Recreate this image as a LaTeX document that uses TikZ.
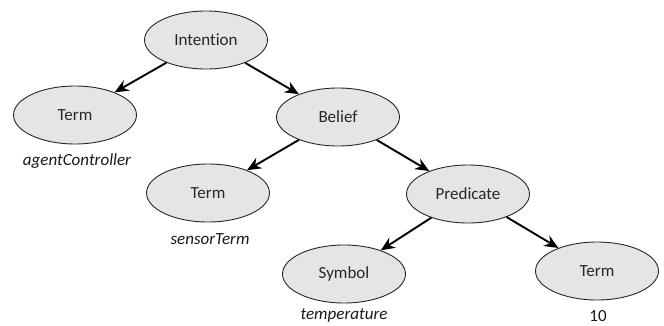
\documentclass[tikz,border=0pt]{standalone}
\usepackage{fontspec}
\setmainfont[Ligatures=NoCommon]{Carlito}
\usetikzlibrary{shapes.geometric,arrows.meta}
\begin{document}
\begin{tikzpicture}[x=1pt,y=-1pt,
  treenode/.style={ellipse,draw=black!85,line width=0.9pt,fill=black!10,
    minimum width=123pt,minimum height=58pt,inner sep=0pt,
    font=\fontsize{17}{20}\selectfont,text=black!85},
  valuelabel/.style={font=\fontsize{17}{20}\selectfont,text=black!90,inner sep=1pt},
  edge/.style={-{Stealth[length=14pt,width=12pt]},line width=1.9pt}]
  \useasboundingbox (0,0) rectangle (664,325);
  \node[treenode] (intention) at (206,40) {Intention};
  \node[treenode] (term1) at (75,115) {Term};
  \node[treenode] (belief) at (338,117) {Belief};
  \node[treenode] (term2) at (208,193) {Term};
  \node[treenode] (predicate) at (468,194) {Predicate};
  \node[treenode] (symbol) at (344,274) {Symbol};
  \node[treenode] (term3) at (597,271) {Term};
  \node[valuelabel] (v1) at (77,161) {\itshape agentController};
  \node[valuelabel] (v2) at (210,239) {\itshape sensorTerm};
  \node[valuelabel] (v3) at (344,315) {\itshape temperature};
  \node[valuelabel] (v4) at (598,316) {10};
  \draw[edge] (intention) -- (term1);
  \draw[edge] (intention) -- (belief);
  \draw[edge] (belief) -- (term2);
  \draw[edge] (belief) -- (predicate);
  \draw[edge] (predicate) -- (symbol);
  \draw[edge] (predicate) -- (term3);
\end{tikzpicture}
\end{document}
